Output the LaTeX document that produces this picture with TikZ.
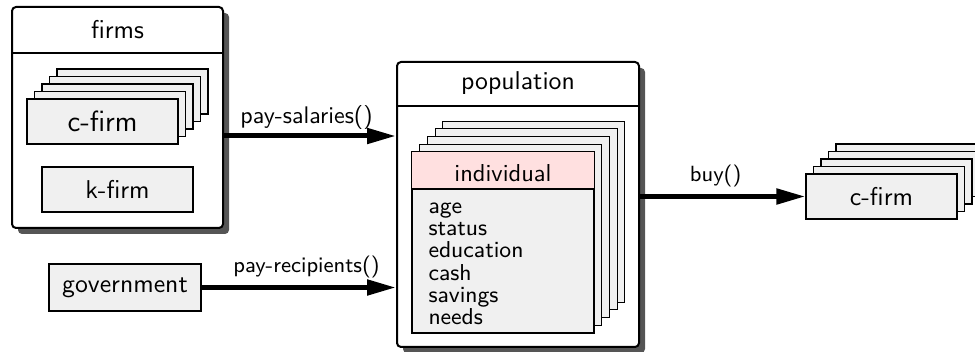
\documentclass[tikz,border=0pt]{standalone}
\usetikzlibrary{arrows.meta}
\definecolor{cardgray}{HTML}{F0F0F0}
\definecolor{headpink}{HTML}{FFE0E0}
\definecolor{shadowgray}{HTML}{555555}
\begin{document}
\begin{tikzpicture}[x=0.4pt, y=-0.4pt,
  font=\sffamily\fontsize{10.3}{12}\selectfont,
  size/.style 2 args={minimum width=#1*0.4pt, minimum height=#2*0.4pt},
  group/.style={draw, line width=0.8pt, rounded corners=1.6pt, fill=white, inner sep=0pt},
  groupshadow/.style={fill=shadowgray, rounded corners=1.6pt},
  card/.style={draw, fill=cardgray, line width=0.45pt, inner sep=0pt, size={151}{45}},
  flow/.style={line width=2pt, -{Triangle[length=11.6pt,width=6pt]}},
  flowlabel/.style={font=\sffamily\fontsize{8.8}{10}\selectfont, inner sep=0pt, anchor=base}
]
\clip (0,0) rectangle (975,352);

% ---- firms container ----
\fill[groupshadow] (18,13) rectangle (229,234);
\node[group, size={211}{221}] (firms) at (117.5,117.5) {};
\draw[line width=0.8pt] (firms.west |- 0,53) -- (firms.east |- 0,53);
\node (firmsTitle) at (117.5,30) {firms};
\foreach \k in {4,3,2,1}
  \node[card] (firmsStack\k) at (102.5+7.5*\k, 121.5-7.5*\k) {};
\node[card, font=\sffamily\fontsize{11.7}{14}\selectfont] (cfirmA) at (102.5,121.5) {c-firm};
\node[card] (kfirm) at (117.5,189.5) {k-firm};

% ---- population container ----
\fill[groupshadow] (403,68) rectangle (645,353);
\node[group, size={242}{285}] (population) at (518,204.5) {};
\draw[line width=0.8pt] (population.west |- 0,106) -- (population.east |- 0,106);
\node (popTitle) at (518,83) {population};
\foreach \k in {4,3,2,1}
  \node[card, size={182}{181}] (indivStack\k) at (503+7.7*\k, 242.5-7.7*\k) {};
\node[card, size={182}{181}] (indiv) at (503,242.5) {};
\filldraw[fill=headpink, line width=0.45pt] (indiv.north west) rectangle (indiv.east |- 0,189);
\node[font=\sffamily\fontsize{9.8}{12}\selectfont] (indivTitle) at (503,173) {individual};
\node[align=left, anchor=north west, inner sep=0pt,
      font=\sffamily\fontsize{9.2}{8.95}\selectfont] (attrs) at (428,202)
  {age\\status\\education\\cash\\savings\\needs};

% ---- government ----
\node[card, size={152}{47}] (gov) at (125,287.5) {government};

% ---- c-firm stack on the right ----
\foreach \k in {4,3,2,1}
  \node[card] (cfirmStack\k) at (881.5+7.5*\k, 196.5-7.5*\k) {};
\node[card] (cfirmB) at (881.5,196.5) {c-firm};

% ---- flows ----
\path ([yshift=-7.4pt]firms.east) coordinate (salOut);
\draw[flow] (salOut) -- (salOut -| population.west)
  node[flowlabel, pos=0.48, yshift=5pt, font=\sffamily\fontsize{9.6}{11}\selectfont] {pay-salaries()};
\draw[flow] (gov.east) -- (gov.east -| population.west)
  node[flowlabel, pos=0.54, yshift=6pt] {pay-recipients()};
\draw[flow] (cfirmB.west -| population.east) -- (cfirmB.west)
  node[flowlabel, pos=0.457, yshift=6pt] {buy()};
\end{tikzpicture}
\end{document}
